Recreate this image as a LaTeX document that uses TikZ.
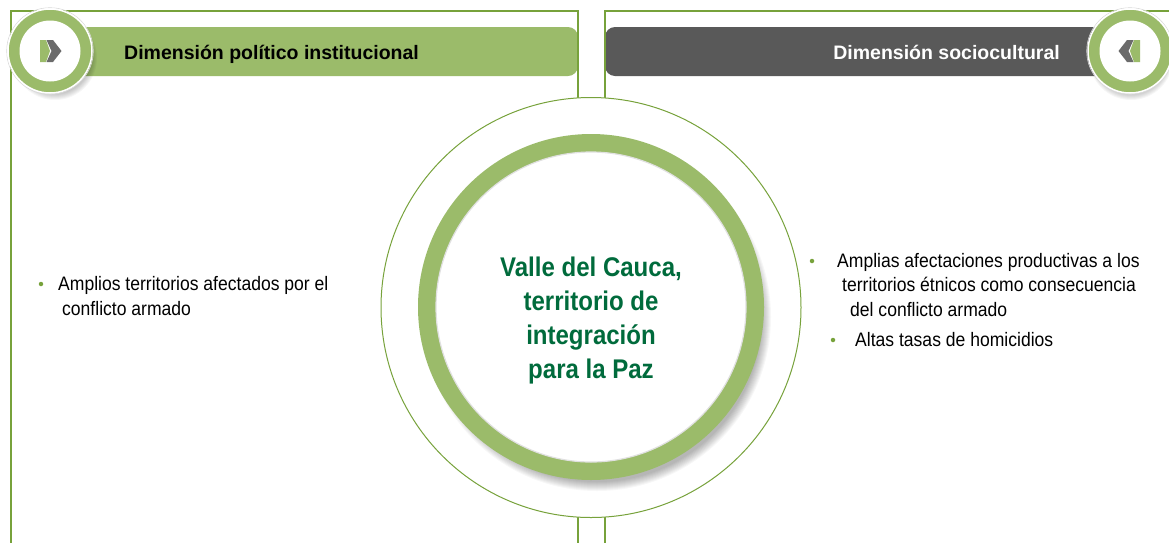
\documentclass[tikz,border=0pt]{standalone}
\usepackage{fontspec}
\setmainfont{Liberation Sans}
\newfontfamily\narrowsans[FakeStretch=0.9]{Liberation Sans}
\newfontfamily\titlesans[FakeStretch=0.89]{Liberation Sans}
\usepackage{tikz}
\usetikzlibrary{positioning}
\definecolor{frame}{HTML}{77A23B}
\definecolor{sage}{HTML}{9BBB6A}
\definecolor{slate}{HTML}{595959}
\definecolor{deepgreen}{HTML}{006B3C}
\definecolor{chevron}{HTML}{6B6B6B}
\tikzset{
  dot/.style={circle,fill=frame,inner sep=0pt,minimum size=4.5pt},
  bodytext/.style={font=\narrowsans\fontsize{19.5}{24.5}\selectfont,align=left,anchor=north west,inner sep=0pt},
  headtext/.style={font=\bfseries\fontsize{19.5}{23}\selectfont,inner sep=0pt},
}
\begin{document}
\begin{tikzpicture}[x=1pt,y=-1pt]
\useasboundingbox (0,0) rectangle (1169,542);
% header bars
\fill[sage,rounded corners=10pt] (60,27) rectangle (578,76);
\fill[slate,rounded corners=10pt] (605,27) rectangle (1120,76);
% the two frames
\draw[frame,line width=2.8] (11,560)--(11,11)--(578,11)--(578,560);
\draw[frame,line width=2.8] (605,560)--(605,11)--(1180,11)--(1180,560);
\node[headtext,anchor=base west] (polit) at (124,59.5) {Dimensión político institucional};
\node[headtext,anchor=base east,text=white] (socio) at (1060,59.5) {Dimensión sociocultural};
% central circle
\filldraw[fill=white,draw=frame,line width=1] (591,307.5) circle (210pt);
\foreach \k in {0,...,9} \fill[black,opacity=0.03] (597,317) circle ({(165+\k)*1pt});
\fill[sage] (591,307) circle (173pt);
\filldraw[fill=white,draw=black!12,line width=1.2] (591,307) circle (155pt);
\node[font=\titlesans\bfseries\fontsize{27}{34}\selectfont,text=deepgreen,align=center] (core) at (591,321) {Valle del Cauca,\\territorio de\\integración\\para la Paz};
% corner icons
\foreach \k in {0,...,7} {
  \fill[black,opacity=0.035] (55,58) circle ({(35+\k)*1pt});
  \fill[black,opacity=0.035] (1131,58) circle ({(35+\k)*1pt});
}
\foreach \cx/\side in {50/1,1130/-1} {
  \begin{scope}[shift={(\cx,51)},xscale=\side]
    \draw[black!15,line width=0.6] (0,0) circle (43.3pt);
    \filldraw[fill=sage,draw=white,line width=1.5] (0,0) circle (42pt);
    \fill[white] (0,0) circle (30.5pt);
    \fill[sage] (-10,-11)--(-4,-11)--(0,0)--(-4,11)--(-10,11)--cycle;
    \fill[chevron] (-3.5,-11)--(3,-11)--(11.5,0)--(3,11)--(-3.5,11)--(1.5,0)--cycle;
  \end{scope}
}
% bullet points
\node[dot] (b1) at (41,284) {};
\node[bodytext] (left1) at (58,276.5) {Amplios territorios afectados por el\\\hspace*{4pt}conflicto armado};
\node[dot] (b2) at (812,261) {};
\node[bodytext] (right1) at (837,253) {Amplias afectaciones productivas a los\\\hspace*{5pt}territorios étnicos como consecuencia\\\hspace*{13pt}del conflicto armado};
\node[dot] (b3) at (833,340) {};
\node[bodytext] (right2) at (855,332) {Altas tasas de homicidios};
\end{tikzpicture}
\end{document}
